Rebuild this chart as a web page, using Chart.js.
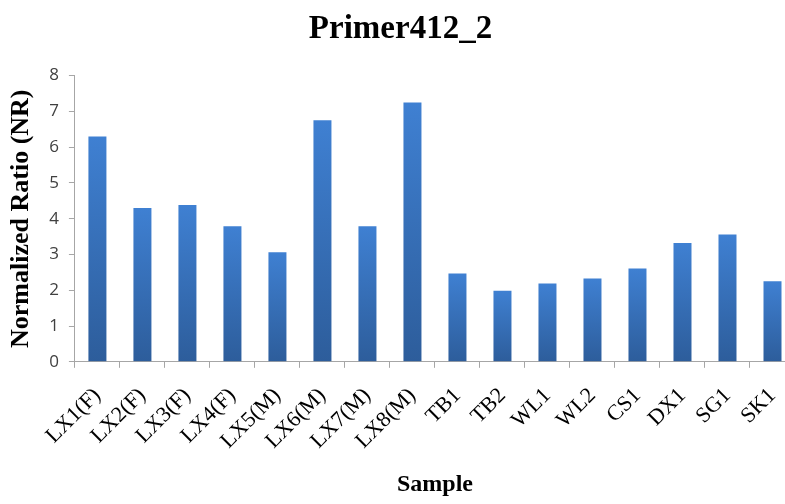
<!DOCTYPE html>
<html>
<head>
<meta charset="utf-8">
<script src="https://cdn.jsdelivr.net/npm/chart.js@4.4.1/dist/chart.umd.min.js"></script>
<style>
  html, body { margin: 0; padding: 0; background: #fff; overflow: hidden; }
  #wrap { width: 800px; height: 504px; }
</style>
</head>
<body>
<div id="wrap"><canvas id="primerChart" width="800" height="504"></canvas></div>
<script>
'use strict';

// Sample names and normalized ratios
const samples = [
  'LX1(F)', 'LX2(F)', 'LX3(F)', 'LX4(F)', 'LX5(M)', 'LX6(M)', 'LX7(M)', 'LX8(M)',
  'TB1', 'TB2', 'WL1', 'WL2', 'CS1', 'DX1', 'SG1', 'SK1'
];
const ratios = [6.30, 4.30, 4.38, 3.79, 3.06, 6.75, 3.79, 7.25, 2.47, 1.99, 2.19, 2.33, 2.61, 3.32, 3.56, 2.25];
const yTicks = [0, 1, 2, 3, 4, 5, 6, 7, 8];

const axisColor = '#a6a6a6';
const serif = "'Liberation Serif', 'Times New Roman', serif";

// per-bar vertical gradient, lighter at the top
function barFill(context) {
  const chart = context.chart;
  const y = chart.scales.y;
  if (!y || context.parsed === undefined) return '#3672bd';
  const top = y.getPixelForValue(context.parsed.y);
  const bottom = y.getPixelForValue(0);
  if (!isFinite(top) || !isFinite(bottom) || top === bottom) return '#3672bd';
  const g = chart.ctx.createLinearGradient(0, top, 0, bottom);
  g.addColorStop(0, '#3f80d2');
  g.addColorStop(1, '#2d5d9b');
  return g;
}

document.addEventListener('DOMContentLoaded', function () {
  const ctx = document.getElementById('primerChart').getContext('2d');

  new Chart(ctx, {
    type: 'bar',
    data: {
      labels: samples,
      datasets: [{
        label: 'NR',
        data: ratios,
        backgroundColor: barFill,
        borderWidth: 0,
        barPercentage: 0.8,
        categoryPercentage: 0.5
      }]
    },
    options: {
      responsive: false,
      animation: false,
      layout: { padding: { left: 6, right: 5, top: 4, bottom: 5 } },
      plugins: {
        legend: { display: false },
        tooltip: { enabled: false },
        title: {
          display: true,
          text: 'Primer412_2',
          color: '#000',
          font: { family: serif, size: 33, weight: 'bold' },
          padding: { top: 6, bottom: 26 }
        }
      },
      scales: {
        x: {
          // the rotated labels hang to the left, no room needed on the right
          afterFit: function (scale) {
            scale.paddingRight = 0;
          },
          grid: {
            display: true,
            drawOnChartArea: false,
            drawTicks: true,
            tickLength: 6,
            color: axisColor,
            offset: true
          },
          border: { display: true, color: axisColor, width: 1 },
          ticks: {
            color: '#000',
            font: { family: serif, size: 22 },
            maxRotation: 45,
            minRotation: 45,
            autoSkip: false,
            padding: 15
          },
          title: {
            display: true,
            text: 'Sample',
            color: '#000',
            font: { family: serif, size: 24, weight: 'bold' },
            padding: { top: 1, bottom: 0 }
          }
        },
        y: {
          min: 0,
          max: 8,
          afterBuildTicks: function (axis) {
            axis.ticks = yTicks.map(v => ({ value: v }));
          },
          grid: {
            display: true,
            drawOnChartArea: false,
            drawTicks: true,
            tickLength: 6,
            color: axisColor
          },
          border: { display: true, color: axisColor, width: 1 },
          ticks: {
            color: '#404040',
            font: { family: "'Open Sans', 'Liberation Sans', sans-serif", size: 17 },
            padding: 10
          },
          title: {
            display: true,
            text: 'Normalized Ratio (NR)',
            color: '#000',
            font: { family: serif, size: 26, weight: 'bold' },
            padding: { top: 0, bottom: 2 }
          }
        }
      }
    }
  });
});
</script>
</body>
</html>
